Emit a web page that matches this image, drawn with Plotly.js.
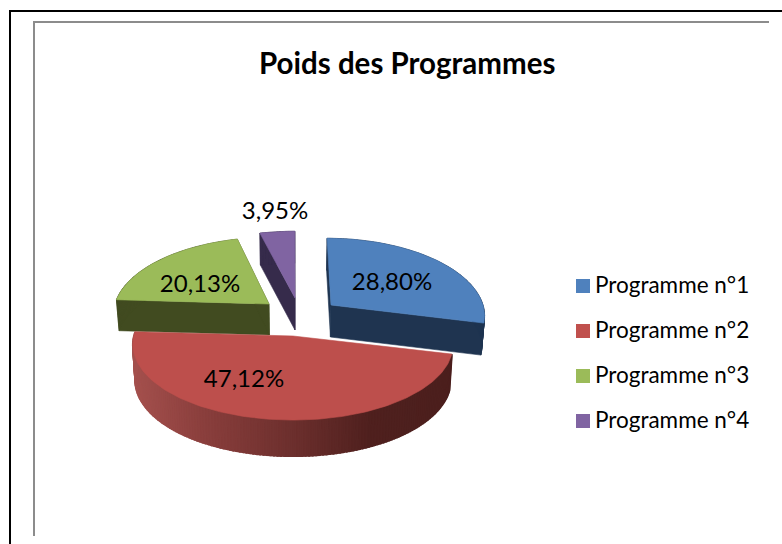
<!DOCTYPE html>
<html>
<head>
<meta charset="utf-8">
<script src="https://cdn.plot.ly/plotly-3.0.1.min.js"></script>
<style>html,body{margin:0;padding:0;background:#fff;overflow:hidden}#chart{width:782px;height:544px}</style>
</head>
<body>
<div id="chart"></div>
<script>
// ---- data ----
const categories = ['Programme n°1', 'Programme n°2', 'Programme n°3', 'Programme n°4'];
const shares = [28.80, 47.12, 20.13, 3.95];
const chartTitle = 'Poids des Programmes';

// ---- style and geometry of the drawing (pixels) ----
const topColors  = ['#4f81bd', '#bd4f4c', '#9bbb59', '#8064a2'];
const sideColors = ['#1f3450', null, '#414b20', '#362b4b'];
const apexX = [331, 293, 269, 295];
const apexY = [305, 336, 304, 298];
const radiusX = [152, 159, 154, 158];
const depth = [32, 36, 31, 32];
const drawOrder = [2, 3, 0, 1];
const labelX = [392, 244, 200, 275];
const labelY = [284, 381, 286, 213];
const legendY = [286, 331, 376, 421];
const legendTextY = [287.5, 332.5, 377.5, 422.5];
const vanishX = 293, persp = 0.115, radiusY = 74.4, floorScale = 0.985;
const rimStops = [[133, [164, 80, 77]], [200, [139, 63, 61]], [293, [108, 47, 45]], [370, [79, 32, 30]], [460, [75, 31, 29]]];

function project(i, t, low) {
  const X = Math.sin(t), Y = -Math.cos(t);
  const s = 1 / (1 - persp * Y);
  let x = vanishX + (apexX[i] - vanishX + radiusX[i] * X) * s;
  let y = apexY[i] + radiusY * Y * s;
  if (low) { x = vanishX + (x - vanishX) * floorScale; y += depth[i]; }
  return [x, y];
}
function apex(i, low) {
  return low ? [vanishX + (apexX[i] - vanishX) * floorScale, apexY[i] + depth[i]] : [apexX[i], apexY[i]];
}
function rimColor(x) {
  for (let k = 1; k < rimStops.length; k++) {
    if (x <= rimStops[k][0]) {
      const a = rimStops[k - 1], b = rimStops[k];
      const f = Math.max(0, (x - a[0]) / (b[0] - a[0]));
      const c = a[1].map((v, n) => Math.round(v + (b[1][n] - v) * f));
      return 'rgb(' + c.join(',') + ')';
    }
  }
  return 'rgb(' + rimStops[rimStops.length - 1][1].join(',') + ')';
}
function poly(pts, color, lineWidth) {
  const xs = pts.map(p => p[0]), ys = pts.map(p => p[1]);
  xs.push(xs[0]); ys.push(ys[0]);
  return {type: 'scatter', mode: 'lines', x: xs, y: ys, fill: 'toself', fillcolor: color,
          line: {color: color, width: lineWidth || 0.6}, hoverinfo: 'skip', showlegend: false};
}

const total = shares.reduce((a, b) => a + b, 0);
const starts = [];
let running = 0;
shares.forEach(v => { starts.push(running / total * 2 * Math.PI); running += v; });

const traces = [];
drawOrder.forEach(i => {
  const t0 = starts[i], t1 = t0 + shares[i] / total * 2 * Math.PI;
  const steps = Math.max(6, Math.round((t1 - t0) / 0.02));
  const angle = k => t0 + (t1 - t0) * k / steps;
  const side = sideColors[i];
  if (side) {
    [t0, t1].forEach(t => traces.push(poly([apex(i, false), project(i, t, false), project(i, t, true), apex(i, true)], side)));
  }
  for (let k = 0; k < steps; k++) {
    const a = project(i, angle(k), false), b = project(i, angle(k + 1), false);
    const c = project(i, angle(k + 1), true), d = project(i, angle(k), true);
    traces.push(poly([a, b, c, d], side || rimColor((a[0] + b[0]) / 2), side ? 0.6 : 2));
  }
  const face = [apex(i, false)];
  for (let k = 0; k <= steps; k++) face.push(project(i, angle(k), false));
  traces.push(poly(face, topColors[i]));
});

// data labels
traces.push({type: 'scatter', mode: 'text', x: labelX, y: labelY,
  text: shares.map(v => v.toFixed(2).replace('.', ',') + '%'),
  textposition: 'middle center', textfont: {family: 'Lato, Carlito, sans-serif', size: 24, color: '#000'},
  hoverinfo: 'skip', showlegend: false, cliponaxis: false});

// legend
traces.push({type: 'scatter', mode: 'markers', x: categories.map(() => 583), y: legendY,
  marker: {symbol: 'square', size: 14, color: ['#4f81bd', '#c0504d', '#9bbb59', '#8064a2'], line: {width: 0}},
  hoverinfo: 'skip', showlegend: false});
traces.push({type: 'scatter', mode: 'text', x: categories.map(() => 595), y: legendTextY,
  text: categories, textposition: 'middle right',
  textfont: {family: 'Lato, Carlito, sans-serif', size: 22.5, color: '#000'},
  hoverinfo: 'skip', showlegend: false, cliponaxis: false});

const frame = (x0, y0, x1, y1, color) => ({type: 'line', xref: 'x', yref: 'y', x0, y0, x1, y1, line: {color, width: 2}});

const layout = {
  width: 782, height: 544, margin: {l: 0, r: 0, t: 0, b: 0},
  paper_bgcolor: '#fff', plot_bgcolor: '#fff', showlegend: false, hovermode: false,
  xaxis: {range: [0, 782], visible: false, fixedrange: true},
  yaxis: {range: [544, 0], visible: false, fixedrange: true},
  shapes: [
    frame(10, 544, 10, 11, '#000'), frame(9, 11, 782, 11, '#000'),
    frame(34, 536, 34, 22, '#8c8c8c'), frame(33, 22, 769, 22, '#8c8c8c')
  ],
  annotations: [{xref: 'x', yref: 'y', x: 407, y: 62, text: '<b>' + chartTitle + '</b>', showarrow: false,
    xanchor: 'center', yanchor: 'middle', font: {family: 'Lato, Carlito, sans-serif', size: 29.5, color: '#000'}}]
};
Plotly.newPlot('chart', traces, layout, {staticPlot: true, displayModeBar: false});
</script>
</body>
</html>
